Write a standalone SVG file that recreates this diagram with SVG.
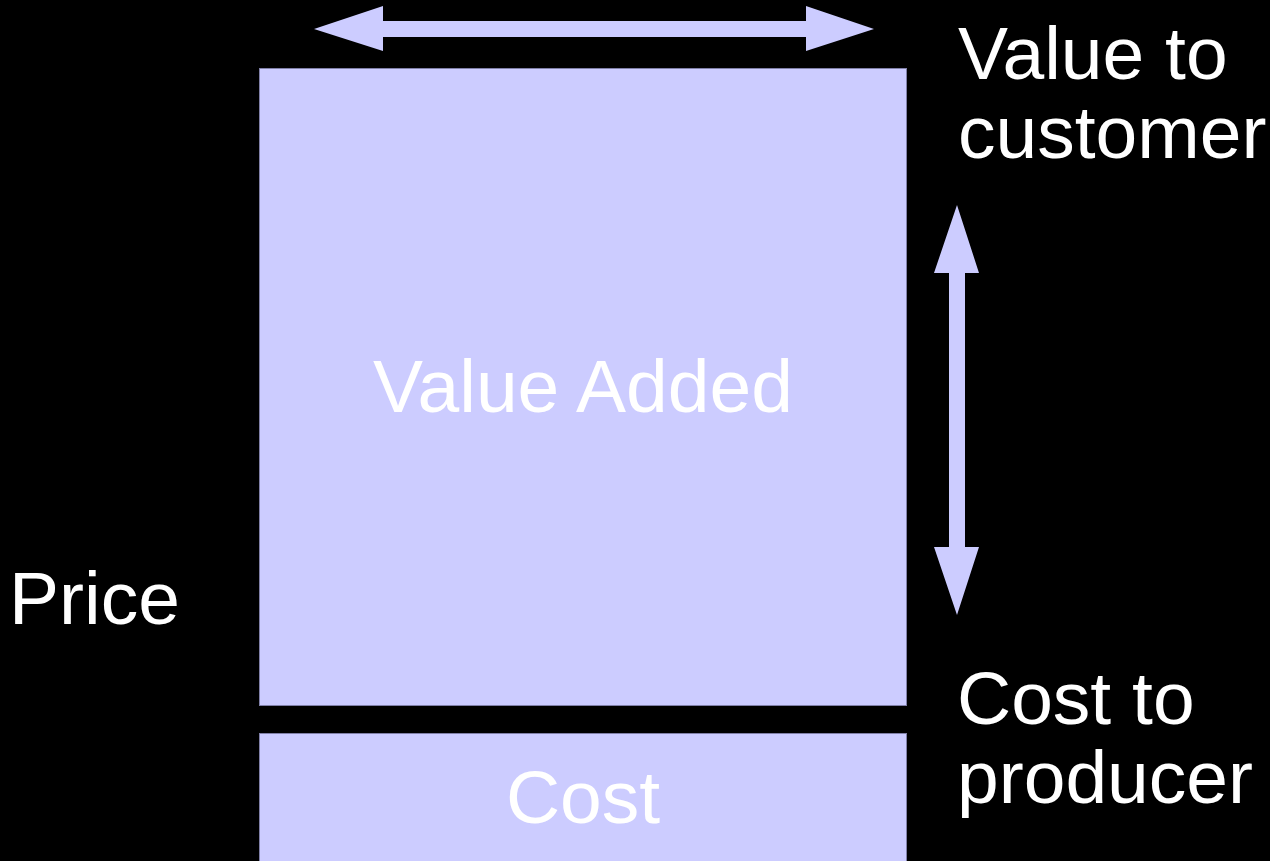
<svg xmlns="http://www.w3.org/2000/svg" width="1270" height="861" viewBox="0 0 1270 861">
<style>
.box{fill:#ccccff;stroke:#8080a8;stroke-width:1}
.arr{fill:#ccccff}
text{font-family:"Liberation Sans",Arial,sans-serif;font-size:75px;fill:#ffffff}
.mid{text-anchor:middle}
</style>
<rect width="1270" height="861" fill="#000000"/>
<g id="value-added">
<rect class="box" x="259.5" y="68.5" width="647" height="637"/>
<text class="mid" x="583" y="412">Value Added</text>
</g>
<g id="cost">
<rect class="box" x="259.5" y="733.5" width="647" height="140"/>
<text class="mid" x="583" y="823">Cost</text>
</g>
<g id="price"><text x="9" y="624">Price</text></g>
<g id="value-to-customer"><text x="958" y="79">Value to</text><text x="958" y="158">customer</text></g>
<g id="cost-to-producer"><text x="957" y="724">Cost to</text><text x="957" y="803">producer</text></g>
<g id="connectors">
<polygon class="arr" points="314,29 383,6 383,21 806,21 806,6 874,29 806,51 806,37 383,37 383,51"/>
<polygon class="arr" points="957,205 979,273 965,273 965,547 979,547 957,615 934,547 949,547 949,273 934,273"/>
</g>
</svg>
